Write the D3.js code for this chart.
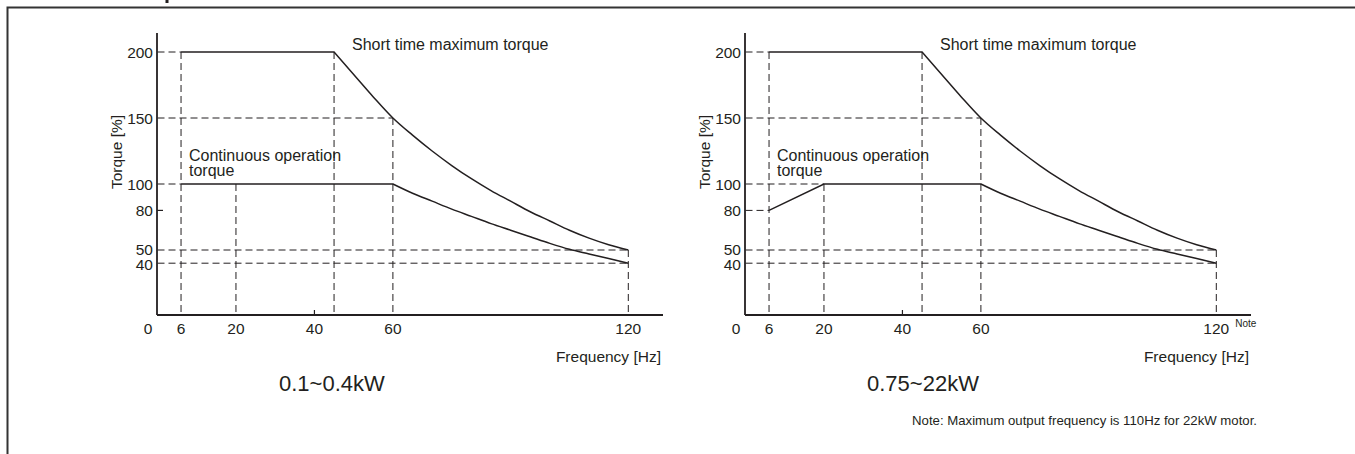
<!DOCTYPE html>
<html>
<head>
<meta charset="utf-8">
<script src="https://cdn.jsdelivr.net/npm/d3@7"></script>
<style>
  html, body { margin: 0; padding: 0; background: #fff; }
  svg { display: block; }
  text { font-family: "Liberation Sans", Arial, sans-serif; fill: #231f20; }
</style>
</head>
<body>
<svg id="chart"></svg>
<script>
const width = 1355, height = 454;

// tick values
const freqTicks = [6, 20, 40, 60, 120];
const torqueTicks = [200, 150, 100, 80, 50, 40];

// short time maximum torque (same for both ranges)
const shortFreq   = [6, 45, 50, 55, 60, 65, 70, 75, 80, 85, 90, 95, 100, 105, 110, 115, 120];
const shortTorque = [200, 200, 183, 166, 150, 137, 125, 114, 104, 95, 87, 79, 72, 65, 59, 54, 50];

// continuous operation torque, 0.1~0.4kW
const contFreqA   = [6, 60, 65, 70, 75, 80, 85, 90, 95, 100, 105, 110, 115, 120];
const contTorqueA = [100, 100, 93, 87, 81, 75.5, 70, 65, 60, 55, 50.5, 47, 43.5, 40];

// continuous operation torque, 0.75~22kW
const contFreqB   = [6, 20, 60, 65, 70, 75, 80, 85, 90, 95, 100, 105, 110, 115, 120];
const contTorqueB = [80, 100, 100, 93, 87, 81, 75.5, 70, 65, 60, 55, 50.5, 47, 43.5, 40];

// dashed guide lines [f1, t1, f2, t2]
const guidesA = [
  [0, 200, 6, 200], [0, 150, 60, 150], [0, 100, 6, 100], [0, 50, 120, 50], [0, 40, 120, 40],
  [6, 200, 6, 0], [20, 100, 20, 0], [45, 200, 45, 0], [60, 150, 60, 0], [120, 50, 120, 0]
];
const guidesB = [
  [0, 200, 6, 200], [0, 150, 60, 150], [0, 100, 20, 100], [0, 80, 6, 80], [0, 50, 120, 50], [0, 40, 120, 40],
  [6, 200, 6, 0], [20, 100, 20, 0], [45, 200, 45, 0], [60, 150, 60, 0], [120, 50, 120, 0]
];

const panelTitles = ["0.1~0.4kW", "0.75~22kW"];

const svg = d3.select("#chart").attr("width", width).attr("height", height);

// frame of the page section
svg.append("rect")
  .attr("x", 7.5).attr("y", 7.5)
  .attr("width", 1400).attr("height", 500)
  .attr("fill", "none").attr("stroke", "#333").attr("stroke-width", 2);

// remnant of the clipped heading above the frame
svg.append("rect")
  .attr("x", 165.5).attr("y", 0)
  .attr("width", 3).attr("height", 3)
  .attr("fill", "#231f20");

const x = d3.scaleLinear().domain([0, 120]).range([157.5, 628.3]);
const y = d3.scaleLinear().domain([0, 200]).range([316, 52]);

const straight = d3.line().x(d => x(d[0])).y(d => y(d[1]));
const smooth = d3.line().x(d => x(d[0])).y(d => y(d[1])).curve(d3.curveMonotoneX);

// flat/ramp part drawn straight, the falling part smooth
function drawTorque(g, fs, ts) {
  const pts = d3.zip(fs, ts);
  const k = pts.findIndex(p => p[0] >= 45 && p[1] < d3.max(ts)) - 1;
  const d = straight(pts.slice(0, k + 1)) + smooth(pts.slice(k)).replace(/^M/, "L");
  g.append("path")
    .attr("d", d)
    .attr("fill", "none").attr("stroke", "#231f20").attr("stroke-width", 1.5)
    .attr("stroke-linejoin", "miter");
}

function drawPanel(dx, guides, contF, contT, title, hasNote) {
  const g = svg.append("g").attr("transform", `translate(${dx},0)`);

  // guides
  g.selectAll("line.guide")
    .data(guides)
    .join("line")
    .attr("class", "guide")
    .attr("x1", d => x(d[0])).attr("y1", d => d[1] === 0 ? 315 : y(d[1]))
    .attr("x2", d => x(d[2])).attr("y2", d => d[3] === 0 ? 315 : y(d[3]))
    .attr("stroke", "#231f20")
    .attr("stroke-width", 1)
    .attr("stroke-dasharray", "7,4");

  // axes
  g.append("line")
    .attr("x1", 157).attr("y1", 33).attr("x2", 157).attr("y2", 315)
    .attr("stroke", "#231f20").attr("stroke-width", 1.8);
  g.append("line")
    .attr("x1", 157).attr("y1", 315).attr("x2", 663).attr("y2", 315)
    .attr("stroke", "#231f20").attr("stroke-width", 1.8);

  // small tick at 40Hz
  g.append("line")
    .attr("x1", x(40)).attr("x2", x(40)).attr("y1", 315).attr("y2", 310)
    .attr("stroke", "#231f20").attr("stroke-width", 1.2);
  if (dx === 0) {
    g.append("line")
      .attr("x1", 157).attr("x2", 163).attr("y1", y(80)).attr("y2", y(80))
      .attr("stroke", "#231f20").attr("stroke-width", 1.2);
  }

  // y tick labels
  g.selectAll("text.ytick")
    .data(torqueTicks)
    .join("text")
    .attr("class", "ytick")
    .attr("x", 153).attr("y", d => y(d) + (d === 50 ? -1 : d === 40 ? 1 : 0))
    .attr("dy", "0.36em")
    .attr("text-anchor", "end")
    .style("font-size", "15.5px")
    .text(d => d);

  // x tick labels
  g.selectAll("text.xtick")
    .data(freqTicks)
    .join("text")
    .attr("class", "xtick")
    .attr("x", d => x(d)).attr("y", 334)
    .attr("text-anchor", "middle")
    .style("font-size", "15.5px")
    .text(d => d);
  g.append("text")
    .attr("x", 148).attr("y", 334)
    .attr("text-anchor", "middle")
    .style("font-size", "15.5px")
    .text("0");

  // curves
  drawTorque(g, shortFreq, shortTorque);
  drawTorque(g, contF, contT);

  // annotations
  g.append("text")
    .attr("x", 352).attr("y", 50)
    .style("font-size", "16px")
    .text("Short time maximum torque");
  g.append("text")
    .attr("x", 189).attr("y", 161)
    .style("font-size", "16px")
    .text("Continuous operation");
  g.append("text")
    .attr("x", 189).attr("y", 176)
    .style("font-size", "16px")
    .text("torque");

  // axis titles
  g.append("text")
    .attr("transform", "translate(122,152) rotate(-90)")
    .attr("text-anchor", "middle")
    .style("font-size", "15.5px")
    .text("Torque [%]");
  g.append("text")
    .attr("x", 661).attr("y", 362)
    .attr("text-anchor", "end")
    .style("font-size", "15.5px")
    .text("Frequency [Hz]");

  g.append("text")
    .attr("x", 279).attr("y", 391)
    .style("font-size", "22px")
    .text(title);

  if (hasNote) {
    g.append("text")
      .attr("x", x(120) + 19).attr("y", 327)
      .style("font-size", "10px")
      .text("Note");
  }
}

drawPanel(0, guidesA, contFreqA, contTorqueA, panelTitles[0], false);
drawPanel(588, guidesB, contFreqB, contTorqueB, panelTitles[1], true);

svg.append("text")
  .attr("x", 1257).attr("y", 425)
  .attr("text-anchor", "end")
  .style("font-size", "13.2px")
  .text("Note: Maximum output frequency is 110Hz for 22kW motor.");
</script>
</body>
</html>
